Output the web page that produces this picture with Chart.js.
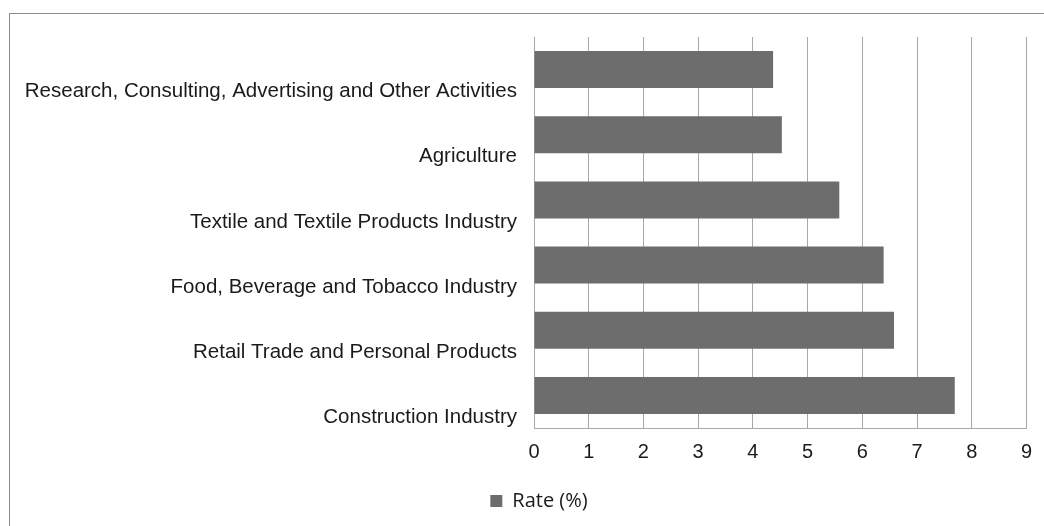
<!DOCTYPE html>
<html>
<head>
<meta charset="utf-8">
<script src="https://cdn.jsdelivr.net/npm/chart.js@4"></script>
<style>
    html, body { margin: 0; padding: 0; background: #fff; }
    #wrap { position: relative; width: 1044px; height: 526px; overflow: hidden; }
    #frame { position: absolute; left: 9px; top: 13px; width: 1100px; height: 600px;
             border-top: 1px solid #8c8c8c; border-left: 1px solid #8c8c8c; }
    #chart { position: absolute; left: 0; top: 0; }
</style>
</head>
<body>
<div id="wrap">
    <div id="frame"></div>
    <canvas id="chart" width="1044" height="526"></canvas>
</div>
<script>
// Categories, top to bottom as shown
const categories = [
    'Research, Consulting, Advertising and Other Activities',
    'Agriculture',
    'Textile and Textile Products Industry',
    'Food, Beverage and Tobacco Industry',
    'Retail Trade and Personal Products',
    'Construction Industry'
];

// Rate (%)
const rates = [4.37, 4.53, 5.58, 6.39, 6.58, 7.69];

const seriesName = 'Rate (%)';
const xMin = 0;
const xMax = 9;

const labelFont = "'Liberation Sans', Arial, sans-serif";

// the legend in the original sits a bit right of the page centre
const legendShift = {
    id: 'legendShift',
    afterLayout(chart) {
        const lg = chart.legend;
        if (!lg) return;
        const dx = 539 - (lg.left + lg.right) / 2;
        lg.left += dx;
        lg.right += dx;
    }
};

const ctx = document.getElementById('chart').getContext('2d');
new Chart(ctx, {
    type: 'bar',
    data: {
        labels: categories,
        datasets: [{
            label: seriesName,
            data: rates,
            backgroundColor: '#6d6d6d',
            borderWidth: 0,
            categoryPercentage: 1,
            barPercentage: 0.567
        }]
    },
    options: {
        indexAxis: 'y',
        responsive: false,
        animation: false,
        layout: {
            padding: { left: 18, right: 15, top: 37, bottom: 5 }
        },
        plugins: {
            tooltip: { enabled: false },
            legend: {
                position: 'bottom',
                labels: {
                    boxWidth: 12,
                    boxHeight: 12,
                    padding: 10,
                    color: '#1a1a1a',
                    font: { family: "'Open Sans', sans-serif", size: 20 }
                }
            }
        },
        scales: {
            x: {
                min: xMin,
                max: xMax,
                ticks: {
                    stepSize: 1,
                    padding: 12,
                    color: '#1a1a1a',
                    font: { family: labelFont, size: 20 }
                },
                grid: { color: '#a8a8a8', lineWidth: 1, drawTicks: false },
                border: { color: '#a8a8a8', width: 1 },
                afterFit: (scale) => { scale.height = 53; }
            },
            y: {
                ticks: {
                    padding: 17,
                    labelOffset: 22,
                    color: '#1a1a1a',
                    font: { family: labelFont, size: 20.5 }
                },
                grid: { display: false, drawTicks: false },
                border: { color: '#a8a8a8', width: 1 },
                afterFit: (scale) => { scale.width = 516; }
            }
        }
    },
    plugins: [legendShift]
});
</script>
</body>
</html>
